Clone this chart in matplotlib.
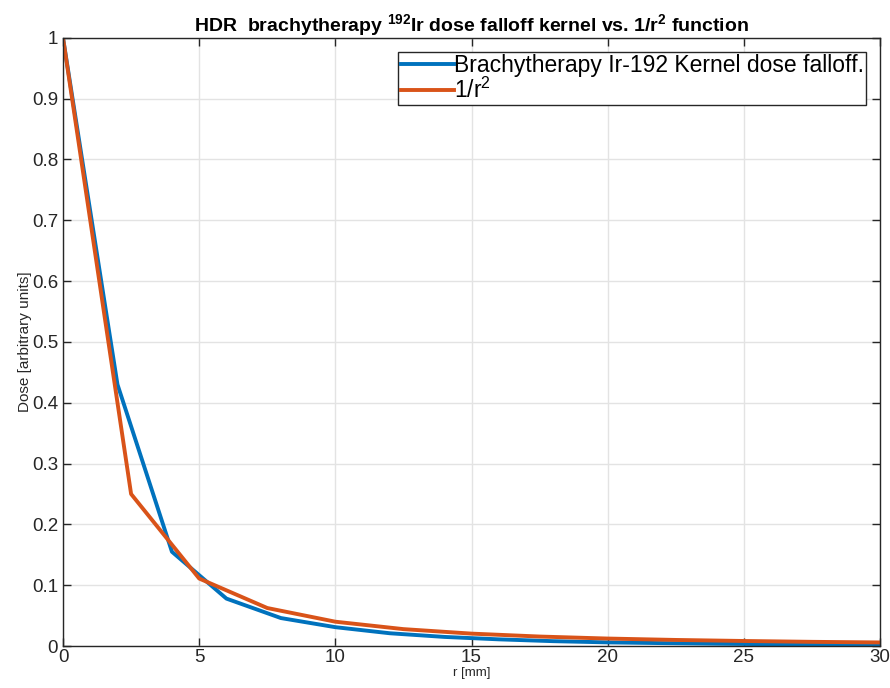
import matplotlib
matplotlib.use("Agg")
import matplotlib.pyplot as plt

# kernel (sampled every 2 mm)
r_kernel = [0, 2, 4, 6, 8, 10, 12, 14, 16, 18, 20, 22, 24, 26, 28, 30]
dose_kernel = [1.0, 0.43, 0.155, 0.078, 0.046, 0.031, 0.021, 0.015, 0.011, 0.008,
               0.006, 0.0048, 0.0038, 0.003, 0.0025, 0.002]

# 1/r^2 (sampled every 2.5 mm)
r_inv = [0, 2.5, 5, 7.5, 10, 12.5, 15, 17.5, 20, 22.5, 25, 27.5, 30]
dose_inv = [1.0, 0.25, 0.111, 0.0625, 0.04, 0.0278, 0.0204, 0.0156, 0.0123,
            0.01, 0.0083, 0.0069, 0.0059]

xticks = [0, 5, 10, 15, 20, 25, 30]
yticks = [0, 0.1, 0.2, 0.3, 0.4, 0.5, 0.6, 0.7, 0.8, 0.9, 1]
yticklabels = ["0", "0.1", "0.2", "0.3", "0.4", "0.5", "0.6", "0.7", "0.8", "0.9", "1"]

plt.rcParams['font.family'] = ['Liberation Sans', 'DejaVu Sans']
plt.rcParams['mathtext.fontset'] = 'custom'
plt.rcParams['mathtext.rm'] = 'Liberation Sans'
plt.rcParams['mathtext.it'] = 'Liberation Sans:italic'
plt.rcParams['mathtext.bf'] = 'Liberation Sans:bold'

axcol = '#262626'

fig = plt.figure(figsize=(8.9, 6.88), dpi=100)
ax = fig.add_axes([0.0708, 0.061, 0.918, 0.884])

ax.plot(r_kernel, dose_kernel, color='#0072BD', lw=2.8,
        label='Brachytherapy Ir-192 Kernel dose falloff.')
ax.plot(r_inv, dose_inv, color='#D95319', lw=2.8, label='1/r$^2$')

ax.set_xlim(0, 30)
ax.set_ylim(0, 1)
ax.set_xticks(xticks)
ax.set_yticks(yticks)
ax.set_yticklabels(yticklabels)

ax.grid(True, color='#e3e3e3', lw=1)
ax.set_axisbelow(True)
ax.tick_params(direction='in', top=True, right=True, length=6, width=1,
               colors=axcol, labelsize=13.5, labelcolor=axcol)
ax.tick_params(axis='x', pad=2)
for sp in ax.spines.values():
    sp.set_color(axcol)
    sp.set_linewidth(1)

ax.set_xlabel('r [mm]', fontsize=9.5, color=axcol, labelpad=1)
ax.set_ylabel('Dose [arbitrary units]', fontsize=11, color=axcol, labelpad=0)
ax.set_title(r'HDR  brachytherapy $^{\mathbf{192}}$Ir dose falloff kernel vs. 1/r$^{\mathbf{2}}$ function',
             fontsize=14, fontweight='bold', pad=5)

leg = ax.legend(loc='upper right', fontsize=16.5, frameon=True, fancybox=False,
                framealpha=1, edgecolor=axcol, borderpad=0.12, handlelength=2.3,
                handletextpad=0.0, labelspacing=0.0, borderaxespad=0.6)
leg.get_frame().set_linewidth(1)

fig.savefig('out.png', dpi=100)
